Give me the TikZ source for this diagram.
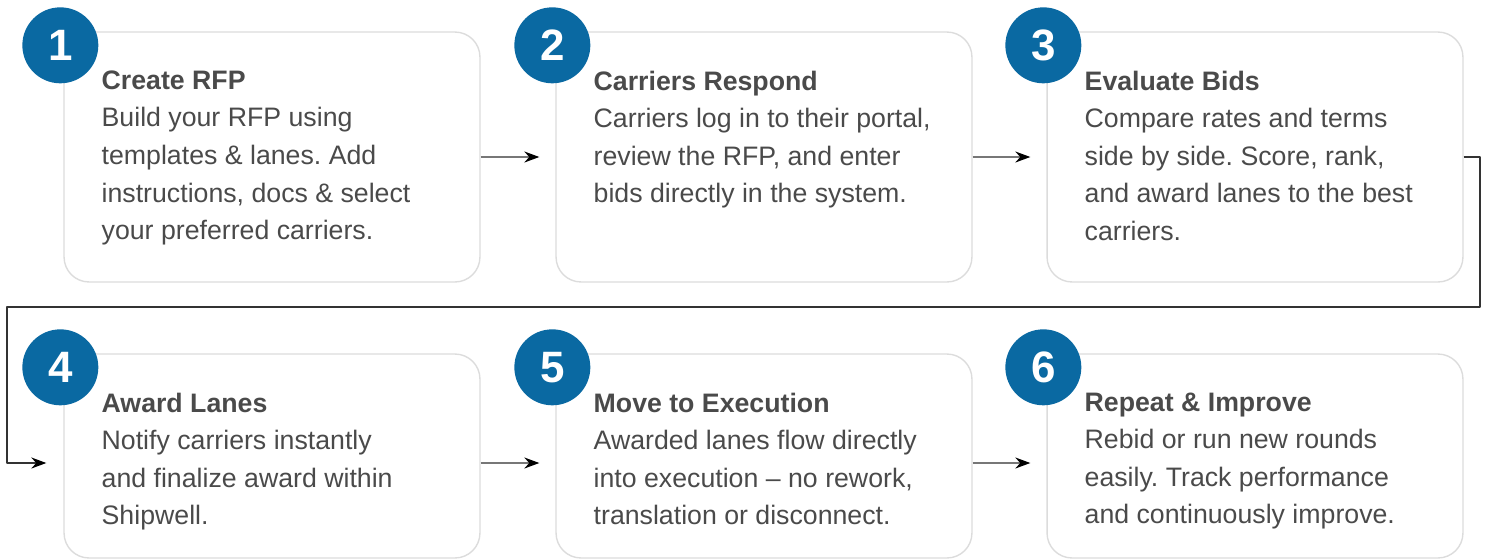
\documentclass[tikz,border=0pt]{standalone}
\usepackage{fontspec}
\setmainfont{Liberation Sans}
\usetikzlibrary{arrows.meta}
\definecolor{stepblue}{HTML}{0A69A2}
\definecolor{cardline}{HTML}{DCDCDC}
\definecolor{inktext}{HTML}{4A4A4A}
\definecolor{linkgray}{HTML}{777777}
\definecolor{loopgray}{HTML}{333333}
\tikzset{
  card/.style={draw=cardline, line width=0.8pt, rounded corners=0.5cm, minimum width=8.32cm, inner sep=0pt},
  stepnum/.style={circle, fill=stepblue, minimum size=1.52cm, inner sep=0pt, text=white, font=\fontsize{25}{25}\selectfont\bfseries},
  steptext/.style={anchor=north west, align=left, inner sep=0pt, text=inktext},
  link/.style={-{Stealth[length=0.3cm, width=0.22cm, color=black]}, draw=linkgray, line width=1pt}
}
\begin{document}
\frenchspacing
\begin{tikzpicture}[x=0.02cm, y=-0.02cm, font=\fontsize{15.2}{21.4}\selectfont, line join=round]
  \useasboundingbox (0,0) rectangle (1485,559);
  % cards and numbers
  \foreach \i/\x/\y/\h in {1/272/157/5, 2/764/157/5, 3/1255/157/5, 4/272/456/4.08, 5/764/456/4.08, 6/1255/456/4.08} {
    \node[card, minimum height=\h cm] (card\i) at (\x,\y) {};
    \node[stepnum] (num\i) at ([xshift=-0.06cm, yshift=-0.28cm]card\i.north west) {\i};
  }
  % texts
  \node[steptext] (text1) at ([xshift=0.76cm, yshift=-0.78cm]card1.north west) {\textbf{Create RFP}\\Build your RFP using\\templates \& lanes. Add\\instructions, docs \& select\\your preferred carriers.};
  \node[steptext] (text2) at ([xshift=0.76cm, yshift=-0.78cm]card2.north west) {\textbf{Carriers Respond}\\Carriers log in to their portal,\\review the RFP, and enter\\bids directly in the system.};
  \node[steptext] (text3) at ([xshift=0.76cm, yshift=-0.78cm]card3.north west) {\textbf{Evaluate Bids}\\Compare rates and terms\\side by side. Score, rank,\\and award lanes to the best\\carriers.};
  \node[steptext] (text4) at ([xshift=0.76cm, yshift=-0.78cm]card4.north west) {\textbf{Award Lanes}\\Notify carriers instantly\\and finalize award within\\Shipwell.};
  \node[steptext] (text5) at ([xshift=0.76cm, yshift=-0.78cm]card5.north west) {\textbf{Move to Execution}\\Awarded lanes flow directly\\into execution -- no rework,\\translation or disconnect.};
  \node[steptext] (text6) at ([xshift=0.76cm, yshift=-0.78cm]card6.north west) {\textbf{Repeat \& Improve}\\Rebid or run new rounds\\easily. Track performance\\and continuously improve.};
  % connectors
  \draw[link] (card1.east) -- ([xshift=-0.32cm]card2.west);
  \draw[link] (card2.east) -- ([xshift=-0.32cm]card3.west);
  \draw[link] ([yshift=-0.14cm]card4.east) -- ([xshift=-0.32cm, yshift=-0.14cm]card5.west);
  \draw[link] ([yshift=-0.14cm]card5.east) -- ([xshift=-0.32cm, yshift=-0.14cm]card6.west);
  \coordinate (turnR) at (1480,307);
  \coordinate (turnL) at (7,307);
  \draw[link, draw=loopgray] (card3.east) -| (turnR) -- (turnL) |- ([xshift=-0.34cm, yshift=-0.14cm]card4.west);
\end{tikzpicture}
\end{document}
